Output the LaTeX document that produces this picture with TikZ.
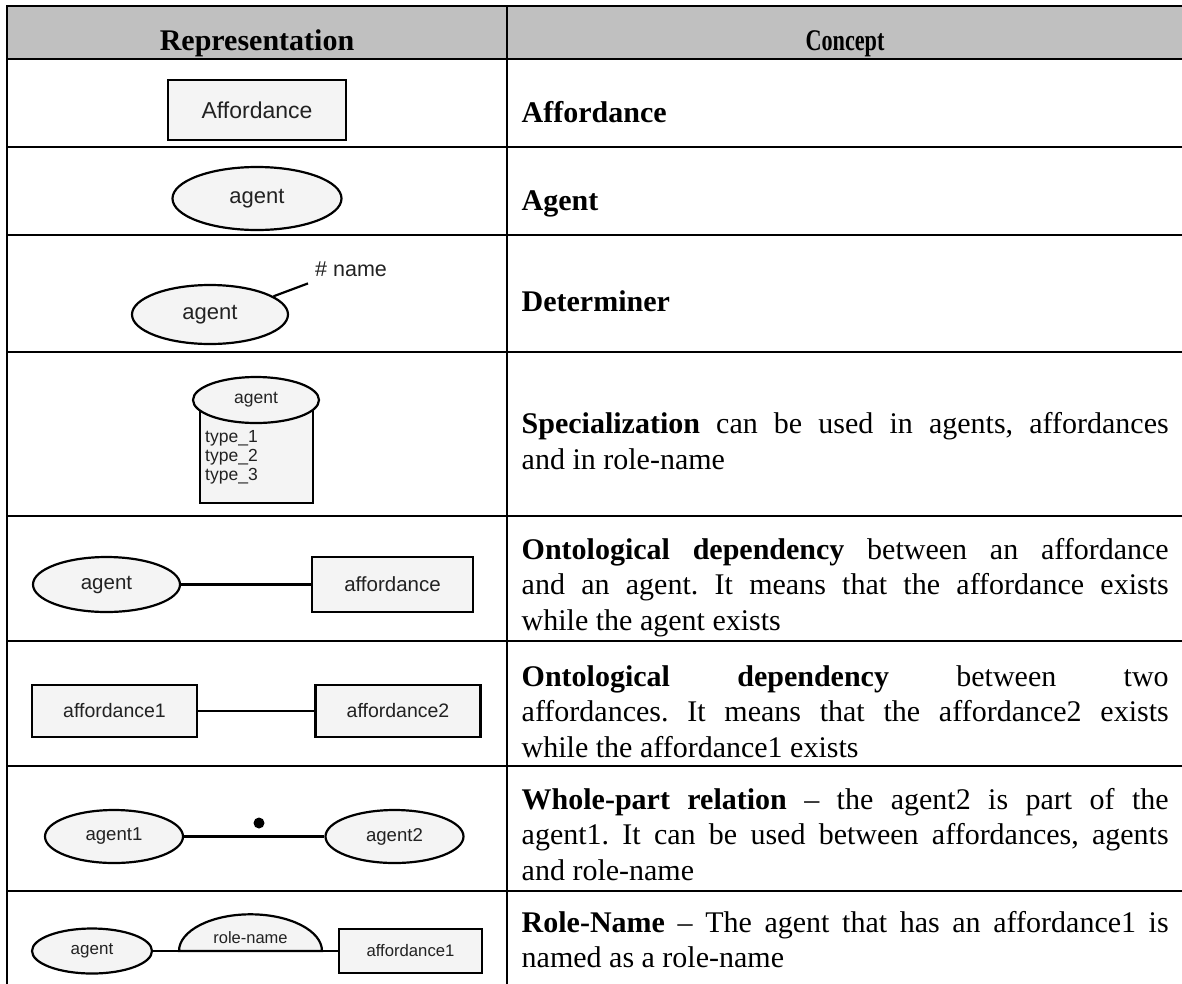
\documentclass[tikz,border=0pt]{standalone}
\usepackage{fontspec}
\setmainfont{Liberation Serif}
\newfontfamily\diagfont{Liberation Sans}
\usetikzlibrary{shapes.geometric}
\definecolor{shapefill}{HTML}{F4F4F4}
\definecolor{headfill}{HTML}{C0C0C0}
\definecolor{labeltext}{HTML}{222222}
\tolerance=10000
\hbadness=10000
\hyphenpenalty=10000
\exhyphenpenalty=10000
\frenchspacing
\newcommand{\dfs}[1]{\diagfont\fontsize{#1}{#1}\selectfont}
\begin{document}
\begin{tikzpicture}[x=1pt,y=-1pt,
  gridline/.style={line width=2.2pt, black},
  shapeline/.style={line width=2.2pt, draw=black, fill=shapefill},
  entity/.style={shapeline, rectangle, inner sep=0pt, text=labeltext},
  agentshape/.style={shapeline, ellipse, inner sep=0pt, text=labeltext},
  link/.style={line width=2.2pt, black},
  tag/.style={inner sep=0pt, text=labeltext},
  concept/.style={anchor=base west, inner sep=0pt, text width=647pt, align=justify,
    font=\fontsize{30}{35.5}\selectfont},
  head/.style={anchor=base, inner sep=0pt},
]
\useasboundingbox (0,0) rectangle (1182,983);
\clip (0,0) rectangle (1182,983);

% header band
\fill[headfill] (7,6) rectangle (1190,59);

% table rules
\foreach \yy in {6,59,147,235,352,516,641,766,891}
  \draw[gridline] (6,\yy) -- (1190,\yy);
\draw[gridline] (7,5) -- (7,990);
\draw[gridline] (507,5) -- (507,990);

% column heads
\node[head, font=\fontsize{30}{34}\selectfont\bfseries] (hrep) at (257,50) {Representation};
\node[head, font=\fontsize{30}{34}\selectfont\bfseries] (hcon) at (845,50) {\scalebox{0.74}[1]{Concept}};

% concept column
\node[concept] (c1) at (521.5,122) {\textbf{Affordance}};
\node[concept] (c2) at (521.5,210) {\textbf{Agent}};
\node[concept] (c3) at (521.5,311.7) {\textbf{Determiner}};
\node[concept] (c4) at (521.5,433.7) {\textbf{Specialization} can be used in agents, affordances\linebreak and in role-name};
\node[concept] (c5) at (521.5,559) {\textbf{Ontological dependency} between an affordance\linebreak and an agent. It means that the affordance exists\linebreak while the agent exists};
\node[concept] (c6) at (521.5,686) {\textbf{Ontological dependency} between two\linebreak affordances. It means that the affordance2 exists\linebreak while the affordance1 exists};
\node[concept] (c7) at (521.5,809) {\textbf{Whole-part relation} – the agent2 is part of the\linebreak agent1. It can be used between affordances, agents\linebreak and role-name};
\node[concept] (c8) at (521.5,932) {\textbf{Role-Name} – The agent that has an affordance1 is\linebreak named as a role-name};

% affordance
\node[entity, minimum width=178pt, minimum height=60pt, font=\dfs{23}] (aff) at (257,110) {Affordance};

% agent
\node[agentshape, minimum width=169pt, minimum height=63pt, font=\dfs{22}] (agt) at (257,198.5) {agent};

% determiner
\node[agentshape, minimum width=156pt, minimum height=59pt, font=\dfs{22}] (det) at (210,314.5) {agent};
\node[tag, anchor=base west, inner xsep=7pt, inner ysep=7pt, font=\dfs{21.5}] (detname) at (308,276) {\# name};
\draw[link] (det.16) -- (detname.south west);

% specialization
\node[shapeline, rectangle, minimum width=113pt, minimum height=103pt, inner sep=0pt] (spbody) at (256.5,451.5) {};
\node[agentshape, minimum width=126pt, minimum height=46pt, font=\dfs{17.5}] (sptop) at (256,400) {agent};
\node[tag, anchor=base west, text width=100pt, align=left, font=\diagfont\fontsize{17.5}{19}\selectfont] (sptypes) at (205,442) {type\_1\\type\_2\\type\_3};

% agent -- affordance
\node[agentshape, minimum width=147pt, minimum height=55pt, font=\dfs{20.5}] (a5) at (106.5,584.5) {agent};
\node[entity, minimum width=161pt, minimum height=55pt, font=\dfs{20.5}] (f5) at (392.5,584.5) {affordance};
\draw[link] (a5) -- (f5);

% affordance -- affordance
\node[entity, minimum width=165pt, minimum height=52pt, font=\dfs{19.5}] (f6a) at (114.5,711) {affordance1};
\node[entity, minimum width=165pt, minimum height=52pt, font=\dfs{19.5}] (f6b) at (398,711) {affordance2};
\draw[link] (f6a) -- (f6b);

% whole-part
\node[agentshape, minimum width=138pt, minimum height=53pt, font=\dfs{18.6}] (a7a) at (114,836.5) {agent1};
\node[agentshape, minimum width=138pt, minimum height=53pt, font=\dfs{18.6}] (a7b) at (394.5,836.5) {agent2};
\draw[link] (a7a) -- (a7b);
\node[circle, fill=black, minimum size=11pt, inner sep=0pt] (wdot) at (259,823) {};

% role-name
\node[agentshape, minimum width=120pt, minimum height=45pt, font=\dfs{17}] (a8) at (92,951) {agent};
\node[entity, minimum width=143pt, minimum height=44pt, font=\dfs{16.7}] (f8) at (410.5,951) {affordance1};
\draw[link] (a8) -- (f8);
\draw[shapeline] (179,951) arc[start angle=180, end angle=360, x radius=71.5, y radius=36.7] -- cycle;
\node[tag, anchor=base, font=\dfs{16.5}] (rn) at (250.5,943) {role-name};
\end{tikzpicture}
\end{document}
